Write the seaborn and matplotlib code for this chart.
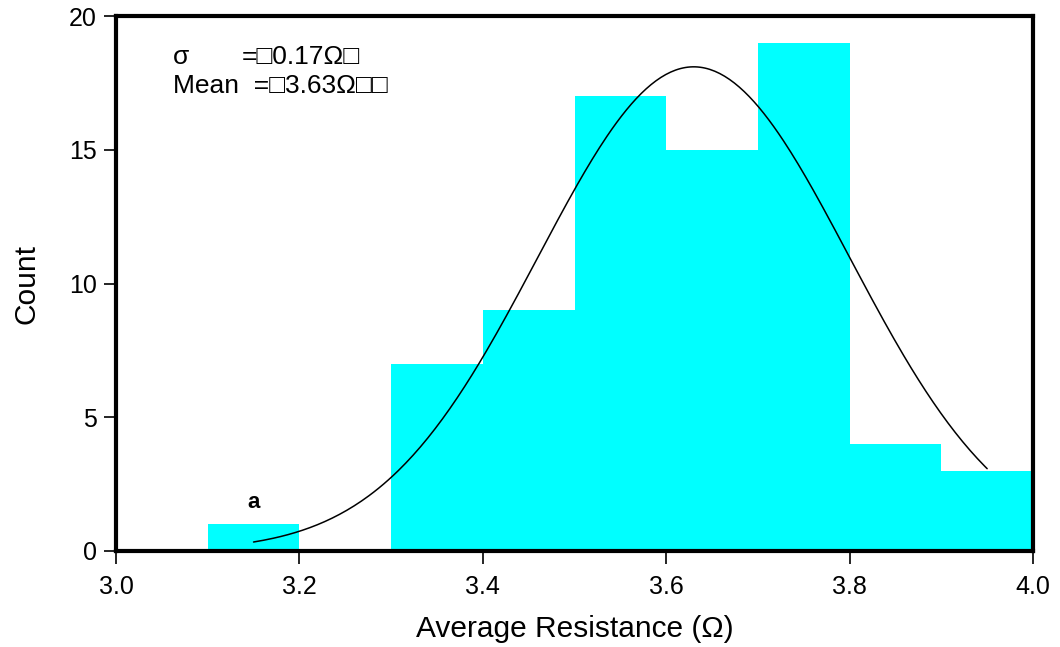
import matplotlib
matplotlib.use("Agg")
import matplotlib.pyplot as plt
import seaborn as sns
import numpy as np

# Data
bin_edges = [3.0, 3.1, 3.2, 3.3, 3.4, 3.5, 3.6, 3.7, 3.8, 3.9, 4.0]
counts = [0, 1, 0, 7, 9, 17, 15, 19, 4, 3]
fit_mean = 3.63
fit_sigma = 0.17
fit_peak = 18.1
fit_range = [3.15, 3.95]
x_ticks = [3.0, 3.2, 3.4, 3.6, 3.8, 4.0]
y_ticks = [0, 5, 10, 15, 20]

sns.set_style("white")
plt.rcParams['font.family'] = ['Liberation Sans', 'DejaVu Sans']
plt.rcParams['text.color'] = 'black'
plt.rcParams['axes.labelcolor'] = 'black'

fig = plt.figure(figsize=(10.6, 6.47), dpi=100)
ax = fig.add_axes([116/1060, (647-551)/647, (1033-116)/1060, (551-16)/647])

centers = [(a + b) / 2 for a, b in zip(bin_edges[:-1], bin_edges[1:])]
sns.histplot(x=centers, weights=counts, bins=bin_edges, color="#00FFFF",
             edgecolor="none", alpha=1, linewidth=0, ax=ax)

xs = np.linspace(fit_range[0], fit_range[1], 300)
ys = fit_peak * np.exp(-(xs - fit_mean) ** 2 / (2 * fit_sigma ** 2))
sns.lineplot(x=xs, y=ys, color="black", linewidth=1.1, ax=ax)

ax.set_xlim(3.0, 4.0)
ax.set_ylim(0, 20)
ax.set_xticks(x_ticks)
ax.set_xticklabels([f"{v:.1f}" for v in x_ticks])
ax.set_yticks(y_ticks)
ax.set_yticklabels([str(v) for v in y_ticks])
ax.tick_params(axis="both", direction="out", length=9, width=1.2, labelsize=18,
               bottom=True, left=True, colors="black", labelcolor="black")
ax.tick_params(axis="x", pad=8)
ax.tick_params(axis="y", pad=5)
for s in ax.spines.values():
    s.set_linewidth(3)
    s.set_color("black")

ax.set_xlabel("Average Resistance (\u03a9)", fontsize=21.5, labelpad=12, color="black")
ax.set_ylabel("Count", fontsize=21.5, labelpad=20, color="black")

ax.text(3.062, 18.45, "\u03c3", fontsize=19, va="center", ha="left", color="black")
ax.text(3.137, 18.45, "=\u25a10.17\u03a9\u25a1", fontsize=19, va="center", ha="left", color="black")
ax.text(3.062, 17.4, "Mean  =\u25a13.63\u03a9\u25a1\u25a1", fontsize=19, va="center", ha="left", color="black")
ax.text(3.15, 1.8, "a", fontsize=16, fontweight="bold", ha="center", va="center", color="black")

fig.savefig("out.png", dpi=100)
